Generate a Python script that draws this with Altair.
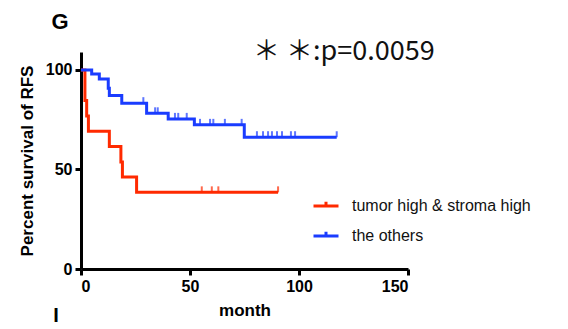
import altair as alt
import pandas as pd

# ---- data ----
groups = ["tumor high & stroma high", "the others"]
colors = ["#ff2a00", "#1a3cff"]

red_times = [0, 1.8, 2.6, 3.4, 13, 18.3, 19, 25.5, 90.4]
red_surv = [100, 84.6, 76.9, 69.2, 61.5, 53.8, 46.2, 38.5, 38.5]
red_cens_t = [55.4, 60, 63, 90.4]
red_cens_s = [38.5, 38.5, 38.5, 38.5]

blue_times = [0, 4.9, 8.4, 12.5, 13, 18.7, 30.1, 40, 52, 74.9, 117.3]
blue_surv = [100, 98.0, 95.5, 90.8, 87.2, 83.3, 78.2, 75.4, 72.4, 66.2, 66.2]
blue_cens_t = [28.6, 34, 35.2, 43.1, 44.6, 48.5, 54.6, 59.2, 60.7, 66, 73.7,
               80.7, 83.5, 85.8, 87.6, 89.9, 92.2, 96.3, 98.2, 117.3]
blue_cens_s = [83.3, 78.2, 78.2, 75.4, 75.4, 75.4, 72.4, 72.4, 72.4, 72.4, 72.4,
               66.2, 66.2, 66.2, 66.2, 66.2, 66.2, 66.2, 66.2, 66.2]

x_ticks = [0, 50, 100, 150]
y_ticks = [0, 50, 100]

curves = pd.DataFrame(
    [{"t": t, "s": s, "g": groups[0]} for t, s in zip(red_times, red_surv)]
    + [{"t": t, "s": s, "g": groups[1]} for t, s in zip(blue_times, blue_surv)]
)
cens = pd.DataFrame(
    [{"t": t, "s": s, "g": groups[0]} for t, s in zip(red_cens_t, red_cens_s)]
    + [{"t": t, "s": s, "g": groups[1]} for t, s in zip(blue_cens_t, blue_cens_s)]
)

FONT = "Liberation Sans"

xscale = alt.Scale(domain=[0, 150], nice=False, zero=False)
yscale = alt.Scale(domain=[0, 109], nice=False)
color = alt.Color(
    "g:N",
    scale=alt.Scale(domain=groups, range=colors),
    legend=alt.Legend(
        title=None,
        orient="none",
        legendX=231,
        legendY=140,
        symbolType="M-1,0H1M0,0V-0.35",
        symbolSize=625,
        symbolStrokeWidth=3,
        labelFont=FONT,
        labelFontSize=16,
        labelColor="#111",
        labelLimit=400,
        rowPadding=8,
        labelOffset=12,
    ),
)

xaxis = alt.Axis(values=x_ticks, title="month", grid=False, titlePadding=8)
yaxis = alt.Axis(values=y_ticks, title="Percent survival of RFS", grid=False, titlePadding=9)

lines = alt.Chart(curves).mark_line(interpolate="step-after", strokeWidth=3, clip=False).encode(
    x=alt.X("t:Q", scale=xscale, axis=xaxis),
    y=alt.Y("s:Q", scale=yscale, axis=yaxis),
    color=color,
    detail="g:N",
)

ticks = alt.Chart(cens).mark_tick(orient="vertical", size=6, thickness=2, yOffset=-3).encode(
    x=alt.X("t:Q", scale=xscale),
    y=alt.Y("s:Q", scale=yscale),
    color=alt.Color("g:N", scale=alt.Scale(domain=groups, range=colors), legend=None),
)

ptext = alt.Chart(pd.DataFrame({"txt": ["＊ ＊:p=0.0059"]})).mark_text(
    font="Noto Sans CJK JP", fontSize=27, align="left", baseline="middle", color="#111"
).encode(text="txt:N", x=alt.value(172), y=alt.value(0))

gtext = alt.Chart(pd.DataFrame({"txt": ["G"]})).mark_text(
    font=FONT, fontSize=22, fontWeight="bold", align="center", baseline="middle", color="#000"
).encode(text="txt:N", x=alt.value(-21), y=alt.value(-30))

itext = alt.Chart(pd.DataFrame({"txt": ["I"]})).mark_text(
    font=FONT, fontSize=20, fontWeight="bold", align="center", baseline="alphabetic", color="#000"
).encode(text="txt:N", x=alt.value(-25), y=alt.value(270))

chart = (
    alt.layer(lines, ticks, ptext, gtext, itext)
    .properties(
        width=327,
        height=217,
        autosize=alt.AutoSizeParams(type="none"),
        padding={"left": 73, "top": 44, "right": 150, "bottom": 60},
    )
    .configure_view(stroke=None)
    .configure_axis(
        domainColor="black",
        domainWidth=3,
        tickColor="black",
        tickWidth=3,
        tickSize=6,
        labelFont=FONT,
        labelFontSize=16,
        labelFontWeight="bold",
        labelColor="black",
        labelPadding=3,
        titleFont=FONT,
        titleFontSize=17,
        titleFontWeight="bold",
        titleColor="black",
    )
)

chart.save("out.html", embed_options={"renderer": "svg", "actions": False})
